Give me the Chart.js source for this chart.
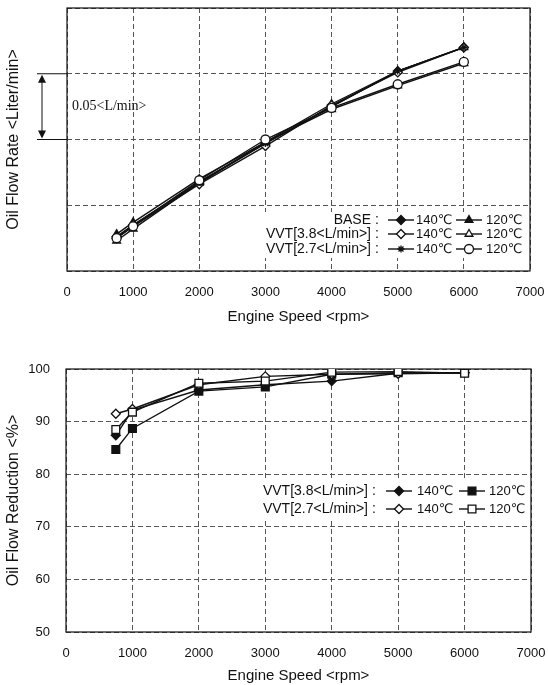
<!DOCTYPE html>
<html>
<head>
<meta charset="utf-8">
<script src="https://cdn.jsdelivr.net/npm/chart.js@4/dist/chart.umd.min.js"></script>
<style>
  html, body { margin: 0; padding: 0; background: #fff; overflow: hidden; }
  .panel { position: absolute; left: 0; width: 548px; }
  #panelFlow { top: 0; height: 335px; }
  #panelReduction { top: 340px; height: 345px; }
</style>
</head>
<body>
<div class="panel" id="panelFlow"><canvas id="flow" width="548" height="335"></canvas></div>
<div class="panel" id="panelReduction"><canvas id="reduction" width="548" height="345"></canvas></div>
<script>
// ---- shared x axis ----
const speeds = [750, 1000, 2000, 3000, 4000, 5000, 6000];   // engine speed, rpm
const speedTicks = [0, 1000, 2000, 3000, 4000, 5000, 6000, 7000];

// ---- upper panel: oil flow rate (gridline pitch = 0.05 L/min) ----
const flowTicks = [0, 0.05, 0.10, 0.15, 0.20];
const flowBase140 = [0.026, 0.035, 0.067, 0.097, 0.125, 0.152, 0.170];
const flowBase120 = [0.028, 0.037, 0.070, 0.098, 0.127, 0.152, 0.170];
const flowVvt38_140 = [0.025, 0.034, 0.066, 0.095, 0.126, 0.151, 0.170];
const flowVvt38_120 = [0.023, 0.032, 0.067, 0.098, 0.123, 0.141, 0.158];
const flowVvt27_140 = [0.026, 0.035, 0.068, 0.097, 0.125, 0.152, 0.170];
const flowVvt27_120 = [0.025, 0.034, 0.069, 0.100, 0.124, 0.142, 0.159];
const bracketFrom = 0.10, bracketTo = 0.15;                // the 0.05 L/min span marker

// ---- lower panel: oil flow reduction, % ----
const reductionTicks = [50, 60, 70, 80, 90, 100];
const redVvt38_140 = [87.4, 92.2, 96.0, 97.0, 97.7, 99.2, 99.3];
const redVvt38_120 = [84.7, 88.7, 95.8, 96.6, 99.0, 99.3, 99.3];
const redVvt27_140 = [91.5, 92.4, 97.0, 98.6, 99.0, 99.1, 99.3];
const redVvt27_120 = [88.5, 91.8, 97.3, 97.7, 99.4, 99.5, 99.2];

const SANS = '"Liberation Sans", Arial, "DejaVu Sans", sans-serif';
const SERIF = '"Liberation Serif", "Times New Roman", serif';
const INK = '#111';
const GRID = '#555';

const toPoints = arr => arr.map((v, i) => ({ x: speeds[i], y: v }));

function series(label, values, style, filled, radius, order) {
  return {
    label,
    data: toPoints(values),
    borderColor: INK,
    borderWidth: 1.4,
    pointStyle: style,
    pointRadius: radius,
    pointHoverRadius: radius,
    pointBorderWidth: 1.3,
    pointBorderColor: INK,
    pointBackgroundColor: filled ? INK : '#fff',
    backgroundColor: filled ? INK : '#fff',
    tension: 0,
    fill: false,
    order
  };
}

// Frame around the plot area, drawn over the dashed grid
const frame = {
  id: 'frame',
  beforeDatasetsDraw(chart) {
    const { ctx, chartArea: a } = chart;
    ctx.save();
    ctx.strokeStyle = INK;
    ctx.lineWidth = 1.2;
    ctx.setLineDash([]);
    ctx.strokeRect(a.left, a.top, a.right - a.left, a.bottom - a.top);
    ctx.restore();
  }
};

function marker(ctx, ds, x, y) {
  ctx.save();
  ctx.fillStyle = ds.pointBackgroundColor;
  ctx.strokeStyle = ds.pointBorderColor;
  ctx.lineWidth = ds.pointBorderWidth;
  Chart.helpers.drawPoint(ctx, { pointStyle: ds.pointStyle, rotation: 0, radius: ds.pointRadius, borderWidth: ds.pointBorderWidth }, x, y);
  ctx.restore();
}

// Legend laid out as rows: "<group> :  —◆— 140℃  —▲— 120℃"
const rowLegend = {
  id: 'rowLegend',
  beforeDatasetsDraw(chart, args, o) {
    const ctx = chart.ctx;
    ctx.save();
    ctx.fillStyle = '#fff';
    ctx.fillRect(o.box[0], o.box[1], o.box[2], o.box[3]);
    ctx.restore();
  },
  afterDatasetsDraw(chart, args, o) {
    const ctx = chart.ctx;
    const sets = chart.data.datasets;
    ctx.save();
    ctx.fillStyle = INK;
    ctx.textBaseline = 'middle';
    o.rows.forEach((row, r) => {
      const y = o.rowY[r];
      ctx.font = o.labelFont;
      ctx.textAlign = 'right';
      ctx.fillText(row.name, o.nameRight, y);
      ctx.textAlign = 'center';
      ctx.fillText(':', o.colonX, y);
      row.items.forEach((idx, k) => {
        const ds = sets[idx];
        const [x0, x1, tx] = o.cols[k];
        ctx.strokeStyle = INK;
        ctx.lineWidth = 1.4;
        ctx.beginPath();
        ctx.moveTo(x0, y);
        ctx.lineTo(x1, y);
        ctx.stroke();
        marker(ctx, ds, (x0 + x1) / 2, y);
        ctx.fillStyle = INK;
        ctx.font = o.itemFont;
        ctx.textAlign = 'left';
        ctx.fillText(ds.label, tx, y);
      });
    });
    ctx.restore();
  }
};

// 0.05 L/min span marker left of the upper plot
const spanMarker = {
  id: 'spanMarker',
  afterDraw(chart) {
    const { ctx, chartArea: a } = chart;
    const ys = chart.scales.y;
    const yHi = ys.getPixelForValue(bracketTo);
    const yLo = ys.getPixelForValue(bracketFrom);
    const ax = 42;
    ctx.save();
    ctx.strokeStyle = INK;
    ctx.fillStyle = INK;
    ctx.lineWidth = 1;
    ctx.beginPath();
    ctx.moveTo(37, yHi); ctx.lineTo(a.left, yHi);
    ctx.moveTo(37, yLo); ctx.lineTo(a.left, yLo);
    ctx.moveTo(ax, yHi + 6); ctx.lineTo(ax, yLo - 6);
    ctx.stroke();
    ctx.beginPath();
    ctx.moveTo(ax, yHi + 1); ctx.lineTo(ax - 4, yHi + 9); ctx.lineTo(ax + 4, yHi + 9); ctx.closePath();
    ctx.moveTo(ax, yLo - 1); ctx.lineTo(ax - 4, yLo - 9); ctx.lineTo(ax + 4, yLo - 9); ctx.closePath();
    ctx.fill();
    ctx.font = '14px ' + SERIF;
    ctx.textAlign = 'left';
    ctx.textBaseline = 'middle';
    ctx.fillText('0.05<L/min>', 72, (yHi + yLo) / 2);
    ctx.restore();
  }
};

function xScale(titlePadBottom, height) {
  return {
    type: 'linear', min: 0, max: 7000,
    afterBuildTicks: s => { s.ticks = speedTicks.map(v => ({ value: v })); },
    afterFit: s => { s.height = height; s.paddingLeft = 0; s.paddingRight = 0; },
    ticks: { color: INK, font: { family: SANS, size: 13 }, padding: 14, maxRotation: 0,
             callback: v => String(v) },
    grid: { color: GRID, lineWidth: 1, drawTicks: false },
    border: { display: false, dash: [5, 3] },
    title: { display: true, text: 'Engine Speed <rpm>', color: INK,
             font: { family: SANS, size: 15 }, padding: { top: 0, bottom: titlePadBottom } }
  };
}

function yFit(width) {
  return s => { s.width = width; s.paddingTop = 0; s.paddingBottom = 0; };
}

// ---------- upper chart ----------
new Chart(document.getElementById('flow'), {
  type: 'line',
  data: {
    datasets: [
      series('140℃', flowBase140, 'rectRot', true, 4.5, 5),
      series('120℃', flowBase120, 'triangle', true, 4.5, 4),
      series('140℃', flowVvt38_140, 'rectRot', false, 4.5, 3),
      series('120℃', flowVvt38_120, 'triangle', false, 4.5, 2),
      series('140℃', flowVvt27_140, 'star', true, 3.5, 1),
      series('120℃', flowVvt27_120, 'circle', false, 4.5, 0)
    ]
  },
  options: {
    responsive: false,
    animation: false,
    events: [],
    layout: { padding: { top: 8, right: 18, left: 0, bottom: 0 } },
    plugins: {
      legend: { display: false },
      tooltip: { enabled: false },
      rowLegend: {
        box: [258, 212, 270, 46],
        rows: [
          { name: 'BASE', items: [0, 1] },
          { name: 'VVT[3.8<L/min>]', items: [2, 3] },
          { name: 'VVT[2.7<L/min>]', items: [4, 5] }
        ],
        rowY: [220, 234, 249],
        nameRight: 371, colonX: 377,
        cols: [[388, 414, 416], [456, 482, 486]],
        labelFont: '14px ' + SANS, itemFont: '13px ' + SANS
      }
    },
    scales: {
      x: xScale(9, 64),
      y: {
        type: 'linear', min: 0, max: 0.2,
        afterBuildTicks: s => { s.ticks = flowTicks.map(v => ({ value: v })); },
        afterFit: yFit(67),
        ticks: { display: false },
        grid: { color: GRID, lineWidth: 1, drawTicks: false },
        border: { display: false, dash: [5, 3] },
        title: { display: true, text: 'Oil Flow Rate <Liter/min>', color: INK,
                 font: { family: SANS, size: 16 }, padding: { top: 4, bottom: 0 } }
      }
    }
  },
  plugins: [frame, rowLegend, spanMarker]
});

// ---------- lower chart ----------
new Chart(document.getElementById('reduction'), {
  type: 'line',
  data: {
    datasets: [
      series('140℃', redVvt38_140, 'rectRot', true, 4.5, 3),
      series('120℃', redVvt38_120, 'rect', true, 5.5, 2),
      series('140℃', redVvt27_140, 'rectRot', false, 4.5, 1),
      series('120℃', redVvt27_120, 'rect', false, 5.5, 0)
    ]
  },
  options: {
    responsive: false,
    animation: false,
    events: [],
    layout: { padding: { top: 29, right: 17, left: 0, bottom: 0 } },
    plugins: {
      legend: { display: false },
      tooltip: { enabled: false },
      rowLegend: {
        box: [250, 138, 279, 40],
        rows: [
          { name: 'VVT[3.8<L/min>]', items: [0, 1] },
          { name: 'VVT[2.7<L/min>]', items: [2, 3] }
        ],
        rowY: [151, 169],
        nameRight: 368, colonX: 374,
        cols: [[386, 412, 417], [459, 485, 489]],
        labelFont: '14px ' + SANS, itemFont: '13px ' + SANS
      }
    },
    scales: {
      x: xScale(0, 53),
      y: {
        type: 'linear', min: 50, max: 100,
        afterBuildTicks: s => { s.ticks = reductionTicks.map(v => ({ value: v })); },
        afterFit: yFit(66),
        ticks: { color: INK, font: { family: SANS, size: 13 }, padding: 16 },
        grid: { color: GRID, lineWidth: 1, drawTicks: false },
        border: { display: false, dash: [5, 3] },
        title: { display: true, text: 'Oil Flow Reduction <%>', color: INK,
                 font: { family: SANS, size: 16 }, padding: { top: 4, bottom: 0 } }
      }
    }
  },
  plugins: [frame, rowLegend]
});
</script>
</body>
</html>
